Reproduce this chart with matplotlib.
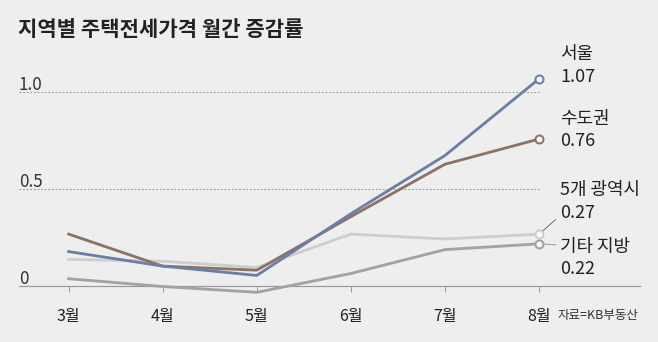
import matplotlib
matplotlib.use("Agg")
import matplotlib.pyplot as plt
import numpy as np

plt.rcParams['font.family'] = ['Noto Sans CJK KR', 'DejaVu Sans']

# 데이터 (자료=KB부동산)
months = ['3월', '4월', '5월', '6월', '7월', '8월']
seoul = [0.18, 0.105, 0.057, 0.375, 0.675, 1.07]
capital = [0.27, 0.105, 0.084, 0.36, 0.63, 0.76]
metro5 = [0.14, 0.13, 0.098, 0.27, 0.245, 0.27]
others = [0.04, 0.0, -0.03, 0.067, 0.19, 0.22]
yticks = [0, 0.5, 1.0]
ytick_labels = ['0', '0.5', '1.0']

BG = '#eeeeee'
TXT = '#222222'

# dpi 72 -> 1pt == 1px
fig = plt.figure(figsize=(658 / 72, 342 / 72), dpi=72, facecolor=BG)
ax = fig.add_axes([19 / 658, 42 / 342, 621 / 658, 260 / 342])
ax.set_facecolor(BG)

x = np.arange(len(months))
ax.set_xlim(-0.528, 6.074)
ax.set_ylim(-0.0696, 1.2706)

# 점선 격자
for yv in yticks[1:]:
    ax.hlines(yv, -0.528, x[-1], colors='#8a8a8a', linestyles=(0, (2, 2)), lw=0.9, zorder=1)

# y 눈금 글자 (선 위에)
for yv, lab in zip(yticks, ytick_labels):
    ax.annotate(lab, xy=(0, yv), xycoords=('axes fraction', 'data'),
                xytext=(0, -2), textcoords='offset points',
                ha='left', va='bottom', fontsize=17, color='#333333')

series = [
    ('5개 광역시', metro5, '#cdcdcd'),
    ('기타 지방', others, '#a2a2a2'),
    ('수도권', capital, '#8c7167'),
    ('서울', seoul, '#6b7ea6'),
]
for i, (name, vals, col) in enumerate(series):
    ax.plot(x, vals, color=col, lw=2.8, zorder=3 + i,
            marker='o', markevery=[len(vals) - 1], ms=8,
            mfc='#f7f7f7', mec=col, mew=2)

# 오른쪽 라벨
label_pos = {
    '서울': (25, 2),
    '수도권': (20, -2),
    '5개 광역시': (44, 21),
    '기타 지방': (-3, -25),
}
for name, vals, col in series:
    dn, dv = label_pos[name]
    xy = (x[-1], vals[-1])
    if name == '기타 지방':
        ax.annotate(name, xy=xy, xytext=(21, dn), textcoords='offset points',
                    ha='left', va='center', fontsize=18, color=TXT,
                    arrowprops=dict(arrowstyle='-', color='#999999', lw=1,
                                    shrinkA=2, shrinkB=5, relpos=(0, 0.6)))
    else:
        ax.annotate(name, xy=xy, xytext=(21, dn), textcoords='offset points',
                    ha='left', va='center', fontsize=18, color=TXT)
    if name == '5개 광역시':
        ax.annotate(f'{vals[-1]:.2f}', xy=xy, xytext=(21, dv), textcoords='offset points',
                    ha='left', va='center', fontsize=18, color=TXT,
                    arrowprops=dict(arrowstyle='-', color='#555555', lw=0.8,
                                    shrinkA=3, shrinkB=5, relpos=(0, 0.35)))
    else:
        ax.annotate(f'{vals[-1]:.2f}', xy=xy, xytext=(21, dv), textcoords='offset points',
                    ha='left', va='center', fontsize=18, color=TXT)

# 축
for s in ['top', 'right', 'left']:
    ax.spines[s].set_visible(False)
ax.spines['bottom'].set_position(('data', 0))
ax.spines['bottom'].set_color('#9a9a9a')
ax.spines['bottom'].set_linewidth(1.2)
ax.spines['bottom'].set_zorder(2)
ax.set_xticks(x)
ax.set_xticklabels(months)
ax.set_yticks([])
ax.tick_params(axis='x', direction='out', length=6, width=1, color='#9a9a9a',
               pad=16, labelsize=16, labelcolor=TXT)

fig.text(18 / 658, 1 - 30 / 342, '지역별 주택전세가격 월간 증감률', ha='left', va='center',
         fontsize=21, fontweight='bold', color=TXT)
fig.text(558 / 658, 1 - 316 / 342, '자료=KB부동산', ha='left', va='center',
         fontsize=12.5, color='#333333')

fig.savefig('out.png', dpi=72, facecolor=BG)
